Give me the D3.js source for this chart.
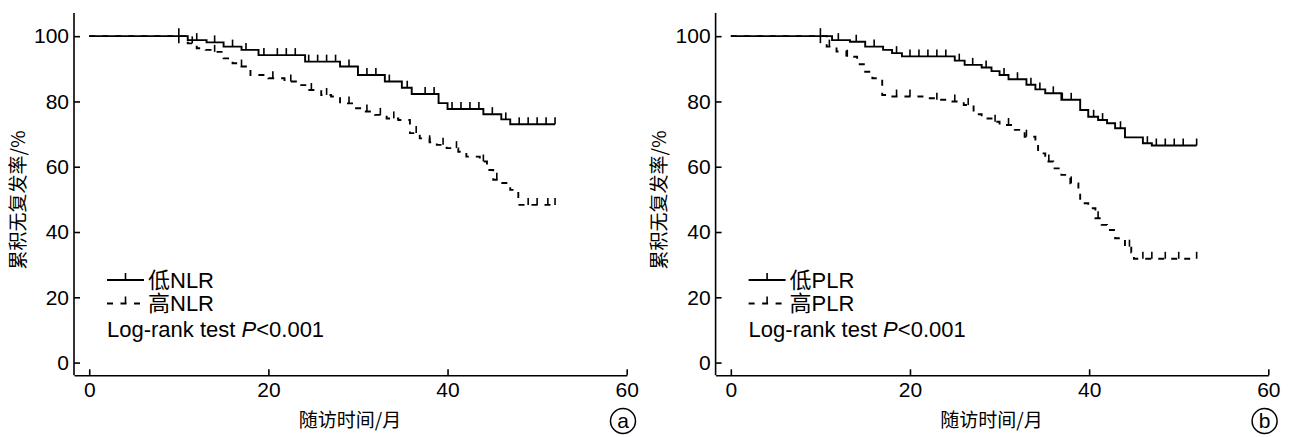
<!DOCTYPE html>
<html><head><meta charset="utf-8">
<script src="https://cdn.jsdelivr.net/npm/d3@7"></script>
<style>
html,body{margin:0;padding:0;background:#fff;}
text{font-family:"Liberation Sans",Arial,sans-serif;fill:#000;}
.cjk{font-family:"Noto Sans CJK SC","Liberation Sans",sans-serif;}
.mix{font-family:"Liberation Sans","Noto Sans CJK SC",sans-serif;}
</style></head><body>
<svg id="c" width="1290" height="437"></svg>
<script>
// ---- data ----
const xTicks = [0, 20, 40, 60];
const yTicks = [0, 20, 40, 60, 80, 100];
const xLabel = "随访时间/月";
const yLabel = "累积无复发率/%";
const endMonth = 52;

// panel a: step events [month, survival %]
const lowNLR = [[0,100],[11,98.8],[13.1,98.1],[15,96.8],[17,95.8],[18.9,94.2],[24.1,92.2],[28,90.7],[30,88.1],[33,86.1],[34.9,84.2],[36,82.3],[39,79.5],[40,77.7],[44,76.1],[46,74.5],[47,73]];
const highNLR = [[0,100],[11,97.8],[12,96.3],[13,95.8],[14,95.2],[15,93.2],[16,91.7],[17,90.7],[18,88.1],[20,87.1],[21.8,86.1],[23.2,85],[24.3,83.5],[25.9,82],[27,81.5],[28,79.4],[29.5,77.9],[30.6,76.9],[31.9,75.9],[33.2,74.8],[34.5,74.3],[35.8,70.3],[36.9,68.7],[38,67.5],[38.8,66.7],[39.9,65.7],[41.2,64.6],[42.1,63.1],[43.6,61.6],[44.4,59],[45.1,56],[46,55],[47,52.9],[47.9,48.3]];
const lowNLRCensor = [12,14,16,17.5,19.5,21,22,23,24.5,25.5,26.5,27.5,29,31,32,33.5,35.5,37.5,38.5,40.5,41.5,42.5,43.5,45,46.5,48,49,50,51,52];
const highNLRCensor = [11.5,14,17,20.5,22.5,24.8,26.5,29,31,32.5,34,36.5,38,39.5,41,44,45.5,49,50,51.2,52];

// panel b
const lowPLR = [[0,100],[11.3,98.8],[13.3,98.3],[15,96.8],[17,95.8],[18,94.8],[19.1,93.8],[25,92.5],[26.1,91.2],[28,90.4],[29.1,89.3],[30,88.1],[31,86.8],[33,85.1],[34,83.7],[35.1,82.5],[36.9,80.5],[39,77.4],[39.9,75.3],[41,74.3],[42,73.3],[42.9,71.8],[44,69],[46,67.2],[47,66.5]];
const highPLR = [[0,100],[10.7,96.8],[11.8,95.3],[12.9,93.7],[14.1,91.4],[15,89.1],[15.8,87.1],[16.9,82],[17.9,81.5],[21.9,81],[23,80.5],[24.5,80],[26,78.9],[27.1,76.1],[28,74.8],[29.1,73.8],[30,72.8],[31.7,71.3],[32.8,69.2],[34,66.7],[34.3,64.1],[35.1,61.6],[36,59.5],[36.9,57.5],[37.9,54.9],[38.8,52.9],[39,48.8],[39.9,47.3],[40.7,44.2],[41.4,42.2],[42,40.6],[42.9,38.1],[44,35.5],[44.7,33.7],[45,31.8]];
const lowPLRCensor = [12,14,16,18.5,20,21,22,23,24,25.5,27,28.5,30.5,32,33.5,34.5,36,37,38,40.5,41.5,43.5,46.5,47.5,48.5,49.5,50.5,52];
const highPLRCensor = [11,13,18.5,20,23,25,26.5,29.5,31,33,35.5,38,41,44.5,46,47,48.5,50,52];
const sharedCensor = [10];

const panels = [
  {low: lowNLR, high: highNLR, lowC: lowNLRCensor, highC: highNLRCensor, names: ["低NLR","高NLR"], tag: "a"},
  {low: lowPLR, high: highPLR, lowC: lowPLRCensor, highC: highPLRCensor, names: ["低PLR","高PLR"], tag: "b"}
];

// ---- drawing ----
const svg = d3.select("#c");
const panelX = [74, 715.6];
const axW = 552.7, yTop = 13, yBot = 375.3;
const FS = 21, LFS = 22, TFS = 19;

function survAt(steps, t){ let v = steps[0][1]; for (const s of steps){ if (s[0] <= t) v = s[1]; } return v; }

panels.forEach((p, i) => {
  const x0 = panelX[i];
  const g = svg.append("g");
  const x = d3.scaleLinear().domain([-1.7, 60]).range([x0, x0 + axW]);
  const y = d3.scaleLinear().domain([-3.9, 107.1]).range([yBot, yTop]);

  const xa = g.append("g").attr("transform", `translate(0,${yBot})`)
    .call(d3.axisBottom(x).tickValues(xTicks).tickSizeInner(-6).tickSizeOuter(0).tickPadding(7).tickFormat(d3.format("d")));
  const ya = g.append("g").attr("transform", `translate(${x0},0)`)
    .call(d3.axisLeft(y).tickValues(yTicks).tickSizeInner(-6).tickSizeOuter(0).tickPadding(5).tickFormat(d3.format("d")));
  [xa, ya].forEach(a => {
    a.selectAll("path,line").attr("stroke", "#000").attr("stroke-width", 1.6);
    a.selectAll("text").style("font-size", FS + "px").style("font-family", '"Liberation Sans",Arial,sans-serif').attr("fill", "#000");
  });
  ya.select(".domain").attr("d", `M0,${yTop}V${yBot}`);

  const line = d3.line().x(d => x(d[0])).y(d => y(d[1])).curve(d3.curveStepAfter);
  function curve(steps, censor, dash){
    const pts = steps.concat([[endMonth, steps[steps.length-1][1]]]);
    g.append("path").attr("d", line(pts)).attr("fill", "none").attr("stroke", "#000")
      .attr("stroke-width", 1.9).attr("stroke-dasharray", dash || null);
    g.selectAll(null).data(censor).enter().append("line")
      .attr("x1", d => x(d)).attr("x2", d => x(d))
      .attr("y1", d => y(survAt(steps, d))).attr("y2", d => y(survAt(steps, d)) - 7)
      .attr("stroke", "#000").attr("stroke-width", 1.6);
  }
  curve(p.low, p.lowC, null);
  curve(p.high, p.highC, "6,7");
  g.selectAll(null).data(sharedCensor).enter().append("line")
    .attr("x1", d => x(d)).attr("x2", d => x(d))
    .attr("y1", d => y(100) - 8).attr("y2", d => y(100) + 7)
    .attr("stroke", "#000").attr("stroke-width", 1.6);

  const lx = x0 + 33, ly1 = 280, ly2 = 303.5;
  g.append("line").attr("x1", lx).attr("x2", lx + 37).attr("y1", ly1).attr("y2", ly1).attr("stroke", "#000").attr("stroke-width", 1.9);
  g.append("line").attr("x1", lx + 18.5).attr("x2", lx + 18.5).attr("y1", ly1).attr("y2", ly1 - 7).attr("stroke", "#000").attr("stroke-width", 1.6);
  g.append("line").attr("x1", lx).attr("x2", lx + 37).attr("y1", ly2).attr("y2", ly2).attr("stroke", "#000").attr("stroke-width", 1.9).attr("stroke-dasharray", "6,7.5");
  g.append("line").attr("x1", lx + 18.5).attr("x2", lx + 18.5).attr("y1", ly2).attr("y2", ly2 - 7).attr("stroke", "#000").attr("stroke-width", 1.6);
  g.append("text").attr("class", "mix").attr("x", lx + 41).attr("y", ly1).attr("dy", "0.36em").style("font-size", LFS + "px").text(p.names[0]);
  g.append("text").attr("class", "mix").attr("x", lx + 41).attr("y", ly2).attr("dy", "0.36em").style("font-size", LFS + "px").text(p.names[1]);
  const lr = g.append("text").attr("x", lx).attr("y", 337).style("font-size", LFS + "px");
  lr.append("tspan").text("Log-rank test ");
  lr.append("tspan").style("font-style", "italic").text("P");
  lr.append("tspan").text("<0.001");

  g.append("text").attr("class", "cjk").attr("x", x0 + 276).attr("y", 420).attr("dy", "0.35em")
    .attr("text-anchor", "middle").style("font-size", TFS + "px").text(xLabel);
  g.append("text").attr("class", "cjk").attr("transform", `translate(${x0 - 56},200) rotate(-90)`)
    .attr("dy", "0.35em").attr("text-anchor", "middle").style("font-size", TFS + "px").text(yLabel);

  const cx = x0 + 549, cy = 421;
  g.append("circle").attr("cx", cx).attr("cy", cy).attr("r", 12.5).attr("fill", "none").attr("stroke", "#000").attr("stroke-width", 1.5);
  g.append("text").attr("x", cx).attr("y", cy).attr("dy", "0.33em").attr("text-anchor", "middle").style("font-size", FS + "px").text(p.tag);
});
</script></body></html>
